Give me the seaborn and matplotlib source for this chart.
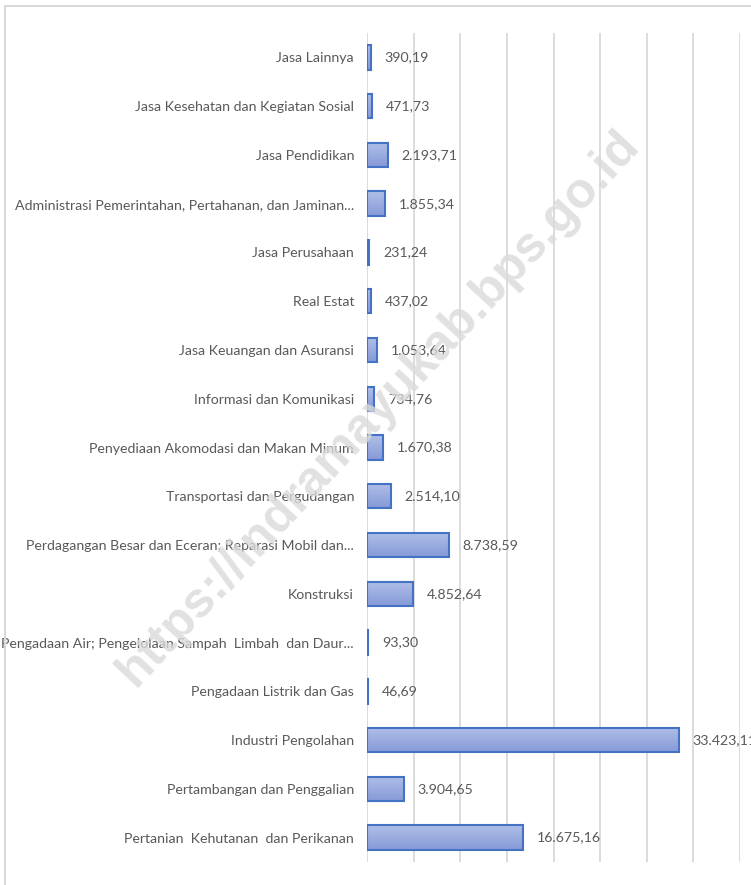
import numpy as np
import pandas as pd
import matplotlib
matplotlib.use("Agg")
import matplotlib.pyplot as plt
from matplotlib.lines import Line2D
from matplotlib.colors import to_rgb
import seaborn as sns

categories = [
    "Jasa Lainnya",
    "Jasa Kesehatan dan Kegiatan Sosial",
    "Jasa Pendidikan",
    "Administrasi Pemerintahan, Pertahanan, dan Jaminan...",
    "Jasa Perusahaan",
    "Real Estat",
    "Jasa Keuangan dan Asuransi",
    "Informasi dan Komunikasi",
    "Penyediaan Akomodasi dan Makan Minum",
    "Transportasi dan Pergudangan",
    "Perdagangan Besar dan Eceran; Reparasi Mobil dan...",
    "Konstruksi",
    "Pengadaan Air; Pengelolaan Sampah  Limbah  dan Daur...",
    "Pengadaan Listrik dan Gas",
    "Industri Pengolahan",
    "Pertambangan dan Penggalian",
    "Pertanian  Kehutanan  dan Perikanan",
]
values = [390.19, 471.73, 2193.71, 1855.34, 231.24, 437.02, 1053.64, 734.76,
          1670.38, 2514.10, 8738.59, 4852.64, 93.30, 46.69, 33423.11, 3904.65,
          16675.16]

df = pd.DataFrame({"sektor": categories, "nilai": values})

sns.set_style("white")
plt.rcParams["font.family"] = ["Lato", "DejaVu Sans"]

W, H = 751, 885
fig = plt.figure(figsize=(W / 100, H / 100), dpi=100)
ax = fig.add_axes([367.3 / W, 1 - 862 / H, (740 - 367.3) / W, (862 - 33) / H])

sns.barplot(data=df, x="nilai", y="sektor", order=categories, orient="h",
            width=0.5, color="#9aaade", edgecolor="#4472C4", linewidth=1.5,
            ax=ax, zorder=3)

ax.set_xlim(0, 40000)
ax.set_ylim(len(categories) - 0.5, -0.5)
ax.set_xticks(np.arange(0, 40001, 5000))
ax.xaxis.grid(True, color="#d9d9d9", linewidth=1.3)
ax.set_axisbelow(True)
ax.tick_params(axis="x", length=0, labelbottom=False)
ax.tick_params(axis="y", length=0, pad=9.5, labelsize=10.2, labelcolor="#595959")
for s in ax.spines.values():
    s.set_visible(False)
ax.set_xlabel("")
ax.set_ylabel("")

# gradient fills
top_c = np.array(to_rgb("#b0bfe8"))
bot_c = np.array(to_rgb("#869ad7"))
grad = np.linspace(0, 1, 64)[:, None, None]
img = top_c * (1 - grad) + bot_c * grad
for p in ax.patches:
    x0, y0 = p.get_x(), p.get_y()
    w, h = p.get_width(), p.get_height()
    im = ax.imshow(img, extent=[x0, x0 + w, y0 + h, y0], origin="upper",
                   aspect="auto", zorder=2.9, interpolation="bilinear")
    im.set_clip_path(p)
    p.set_facecolor("none")
ax.set_xlim(0, 40000)
ax.set_ylim(len(categories) - 0.5, -0.5)

labels = [f"{v:,.2f}".replace(",", "X").replace(".", ",").replace("X", ".") for v in values]
ax.bar_label(ax.containers[0], labels=labels, padding=10, fontsize=10.2, color="#595959")

# watermark
fig.text(378 / W, 1 - 408 / H, "https://indramayukab.bps.go.id", fontsize=36,
         fontweight="bold", color="#dadada", alpha=0.8, rotation=47,
         ha="center", va="center", rotation_mode="anchor", zorder=10,
         family=["Liberation Sans", "DejaVu Sans"])

# chart frame (top and left visible)
fig.add_artist(Line2D([5 / W, 1], [1 - 6 / H, 1 - 6 / H], transform=fig.transFigure,
                      color="#d9d9d9", linewidth=1.5))
fig.add_artist(Line2D([5 / W, 5 / W], [0, 1 - 6 / H], transform=fig.transFigure,
                      color="#d9d9d9", linewidth=1.5))

fig.savefig("out.png", dpi=100)
